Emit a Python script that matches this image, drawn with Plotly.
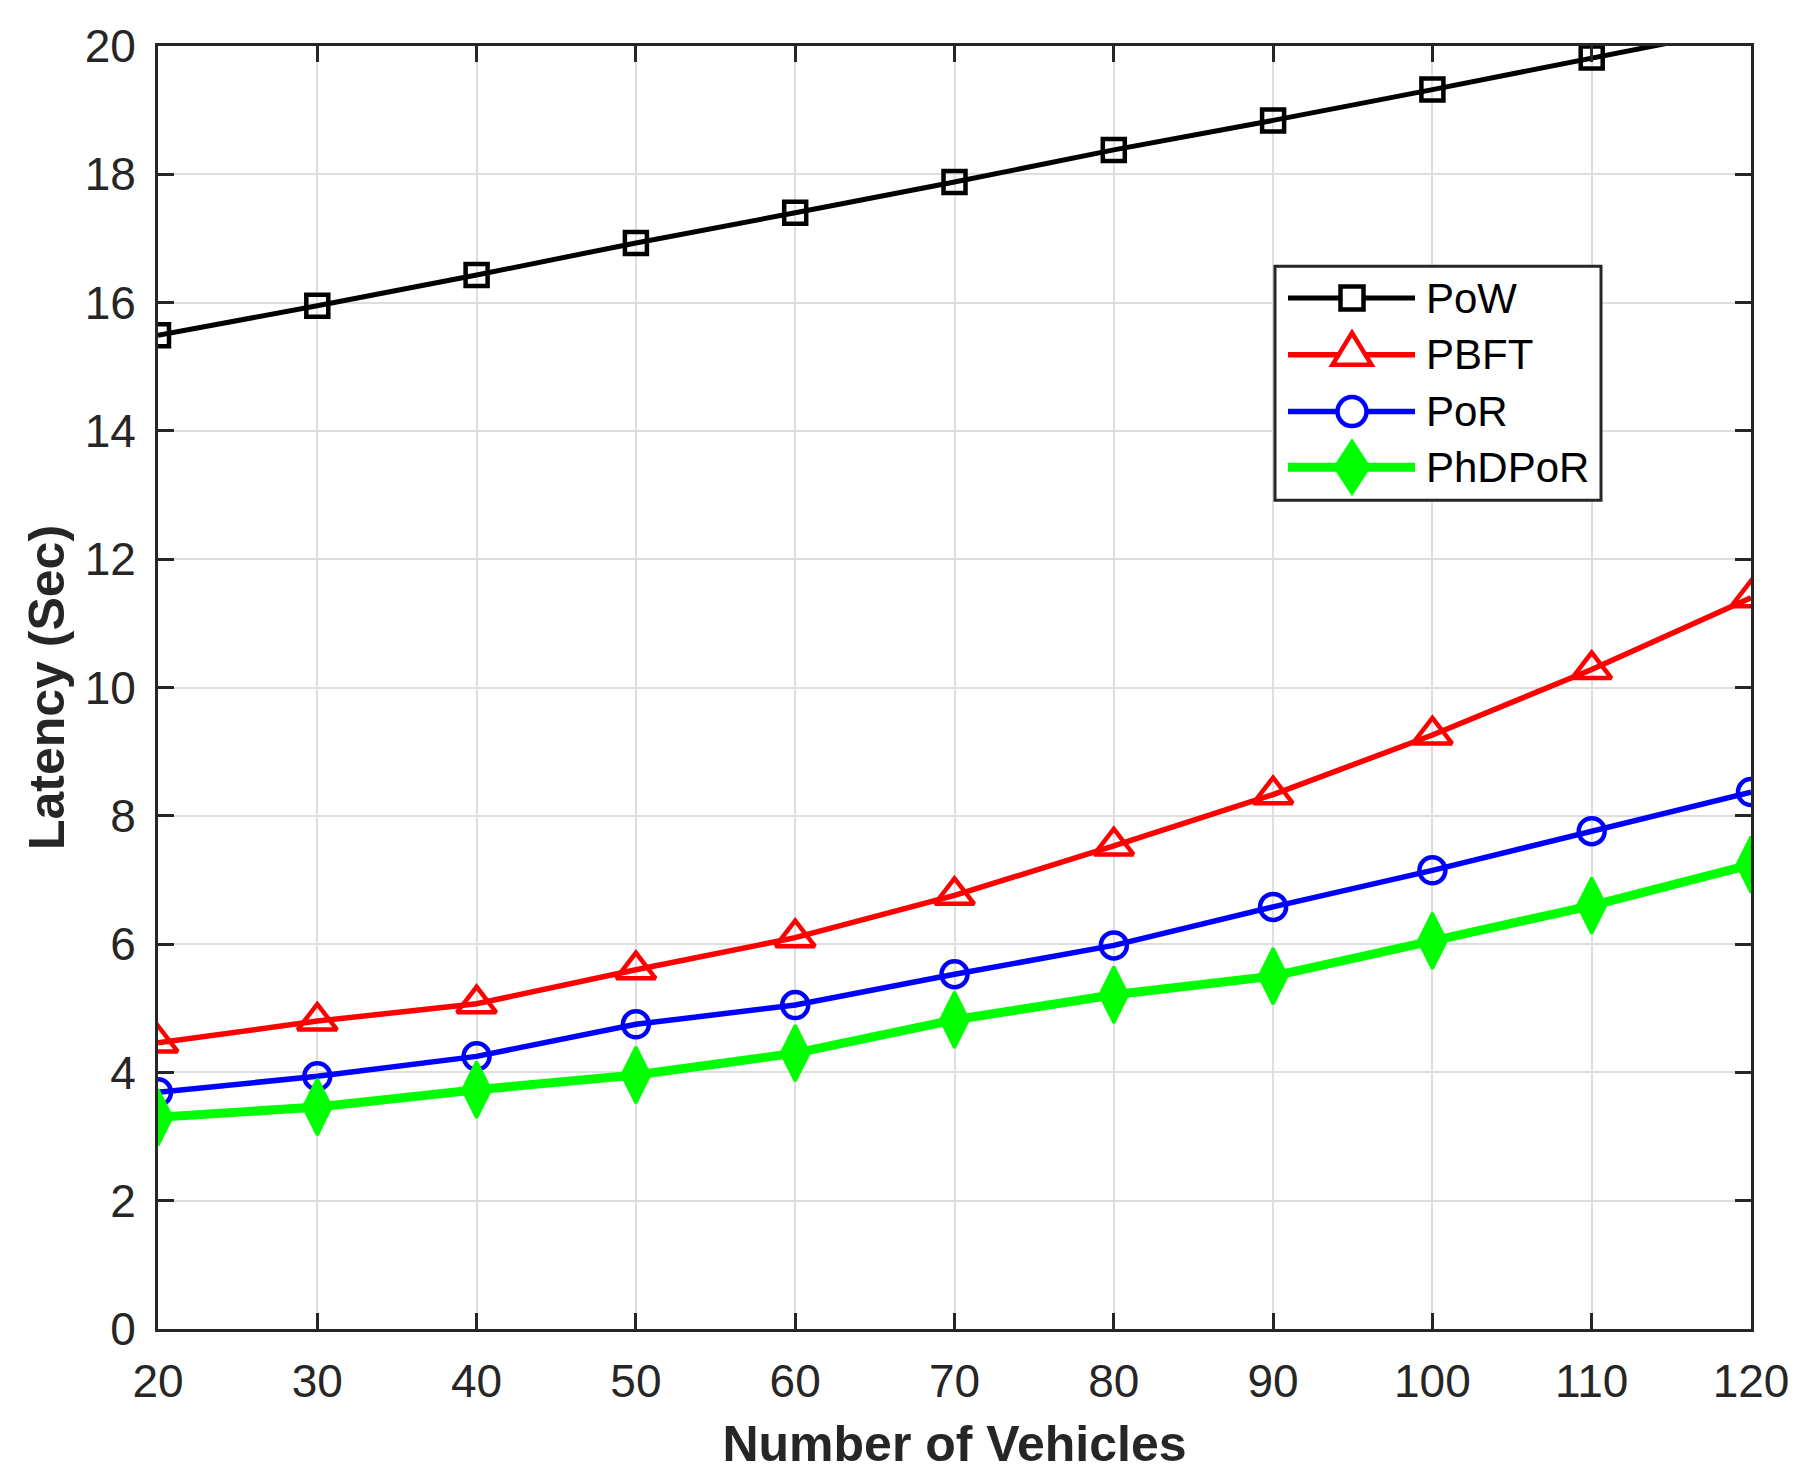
import plotly.graph_objects as go

vehicles = [20, 30, 40, 50, 60, 70, 80, 90, 100, 110, 120]

pow_latency = [15.49, 15.95, 16.43, 16.93, 17.40, 17.88, 18.38, 18.84, 19.32, 19.82, 20.30]
pbft_latency = [4.46, 4.80, 5.07, 5.60, 6.10, 6.76, 7.53, 8.33, 9.26, 10.28, 11.40]
por_latency = [3.69, 3.94, 4.25, 4.75, 5.05, 5.53, 5.98, 6.58, 7.15, 7.76, 8.37]
phdpor_latency = [3.30, 3.46, 3.73, 3.96, 4.30, 4.82, 5.21, 5.50, 6.05, 6.60, 7.24]

series_names = ["PoW", "PBFT", "PoR", "PhDPoR"]

font_name = "Liberation Sans, Arial, sans-serif"
axis_col = "#262626"

# page size and where the axes box should land (pixels in the screenshot)
W, H = 1804, 1484
PAGE_PAD = 8  # default <body> margin of the written html
plot_left, plot_right, plot_top, plot_bottom = 158, 1751, 41, 1329


def to_paper(px, py):
    return ((px - plot_left) / (plot_right - plot_left),
            (plot_bottom - py) / (plot_bottom - plot_top))


# style per series: colour, line width, plot marker
styles = {
    "PoW": dict(color="black", width=5, symbol="square-open", size=22, mlw=4.5),
    "PBFT": dict(color="#ff0000", width=5.5, symbol="triangle-up-open", size=34, mlw=4.5),
    "PoR": dict(color="#0000ff", width=5.5, symbol="circle-open", size=26, mlw=4.5),
    "PhDPoR": dict(color="#00ff00", width=9, symbol="diamond-tall", size=40, mlw=3),
}
values = {"PoW": pow_latency, "PBFT": pbft_latency, "PoR": por_latency, "PhDPoR": phdpor_latency}

fig = go.Figure()
for name in series_names:
    st = styles[name]
    fig.add_trace(go.Scatter(
        x=vehicles, y=values[name], name=name, mode="lines+markers",
        line=dict(color=st["color"], width=st["width"]),
        marker=dict(symbol=st["symbol"], size=st["size"], color=st["color"],
                    line=dict(color=st["color"], width=st["mlw"])),
        showlegend=False,
    ))

# hand-drawn legend box (plotly caps legend marker sizes)
shapes = []
annotations = []
bx0, by0 = to_paper(1275, 262)
bx1, by1 = to_paper(1601, 497)
shapes.append(dict(type="rect", xref="paper", yref="paper", x0=bx0, x1=bx1, y0=by1, y1=by0,
                   fillcolor="white", line=dict(color=axis_col, width=3), layer="above"))

row_y = [294, 351, 408, 464]
marker_x = 1352
text_x = 1424
legend_marks = {
    "PoW": dict(type="rect", x0=-11.5, x1=11.5, y0=-11.5, y1=11.5, fill="white"),
    "PBFT": dict(type="path", path="M-19.5,-10 L19.5,-10 L0,22 Z", fill="white"),
    "PoR": dict(type="circle", x0=-14.5, x1=14.5, y0=-14.5, y1=14.5, fill="white"),
    "PhDPoR": dict(type="path", path="M0,29 L19,0 L0,-29 L-19,0 Z", fill="#00ff00"),
}
for name, ry in zip(series_names, row_y):
    st = styles[name]
    ax, ay = to_paper(marker_x, ry)
    shapes.append(dict(type="line", xref="paper", yref="paper", xsizemode="pixel", ysizemode="pixel",
                       xanchor=ax, yanchor=ay, x0=-64, x1=63, y0=0, y1=0,
                       line=dict(color=st["color"], width=st["width"]), layer="above"))
    mk = legend_marks[name]
    shp = dict(type=mk["type"], xref="paper", yref="paper", xsizemode="pixel", ysizemode="pixel",
               xanchor=ax, yanchor=ay, fillcolor=mk["fill"],
               line=dict(color=st["color"], width=4.5 if name != "PhDPoR" else 0), layer="above")
    if mk["type"] == "path":
        shp["path"] = mk["path"]
    else:
        shp.update(x0=mk["x0"], x1=mk["x1"], y0=mk["y0"], y1=mk["y1"])
    shapes.append(shp)
    tx, ty = to_paper(text_x, ry)
    annotations.append(dict(text=name, xref="paper", yref="paper", x=tx, y=ty,
                            xanchor="left", yanchor="middle", showarrow=False,
                            font=dict(family=font_name, size=42, color="black")))

axis_common = dict(
    showline=True, linecolor=axis_col, linewidth=3, mirror="ticks",
    ticks="inside", ticklen=16, tickwidth=3, tickcolor=axis_col,
    showgrid=True, gridcolor="#dedede", gridwidth=2, zeroline=False,
    tickfont=dict(family=font_name, size=46, color=axis_col),
)

fig.update_xaxes(
    range=[20, 120], tickvals=vehicles, ticklabelstandoff=10,
    title=dict(text="<b>Number of Vehicles</b>", standoff=20,
               font=dict(family=font_name, size=50, color=axis_col)),
    **axis_common,
)
fig.update_yaxes(
    range=[0, 20], dtick=2, ticklabelstandoff=10,
    title=dict(text="<b>Latency (Sec)</b>", standoff=5,
               font=dict(family=font_name, size=50, color=axis_col)),
    **axis_common,
)

fig.update_layout(
    width=W, height=H,
    margin=dict(l=plot_left - PAGE_PAD, r=W + PAGE_PAD - plot_right,
                t=plot_top - PAGE_PAD, b=H + PAGE_PAD - plot_bottom),
    plot_bgcolor="white", paper_bgcolor="white",
    font=dict(family=font_name, color=axis_col),
    showlegend=False,
    shapes=shapes,
    annotations=annotations,
)

fig.write_html("out.html")
